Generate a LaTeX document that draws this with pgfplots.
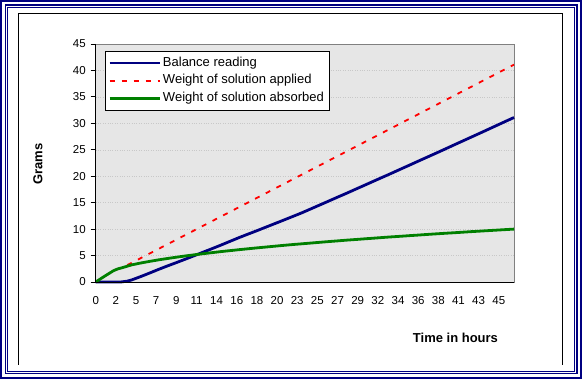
\documentclass[border=0pt]{standalone}
\usepackage{fontspec}
\setmainfont{Liberation Sans}
\usepackage{pgfplots}
\pgfplotsset{compat=1.18}
\definecolor{navyb}{RGB}{0,0,128}
\definecolor{grn}{RGB}{0,128,0}
\definecolor{plotbg}{RGB}{230,230,230}
\definecolor{gridc}{RGB}{200,200,200}
\begin{document}
\begin{tikzpicture}[x=1pt,y=1pt]
\useasboundingbox (0,0) rectangle (582,379);
\fill[white] (0,0) rectangle (582,379);
\draw[navyb, line width=2.2pt] (1.1,1.1) rectangle (580.9,377.9);
\draw[navyb, line width=1.4pt] (5.2,5.2) rectangle (576.8,373.8);
\draw[navyb, line width=0.9pt] (7.6,7.6) rectangle (574.4,371.4);
\draw[black, line width=1pt] (18.3,14) -- (18.3,365.7) -- (562.3,365.7) -- (562.3,14);
\begin{axis}[
  at={(95.7pt,97pt)}, anchor=south west, scale only axis,
  width=418.3pt, height=238pt,
  xmin=0, xmax=46.7, ymin=0, ymax=45,
  clip=false,
  axis background/.style={fill=plotbg},
  axis line style={draw=gray},
  xtick={0,2.25,4.5,6.75,9,11.25,13.5,15.75,18,20.25,22.5,24.75,27,29.25,31.5,33.75,36,38.25,40.5,42.75,45},
  xticklabels={0,2,5,7,9,11,14,16,18,20,23,25,27,29,32,34,36,38,41,43,45},
  x tick style={draw=none},
  ytick={0,5,...,45},
  ytick pos=left,
  tick align=outside,
  major tick length=5pt,
  y tick style={black, line width=0.8pt},
  ymajorgrids,
  y grid style={dotted, gridc},
  tick label style={font=\fontsize{11.5}{13}\selectfont},
  /pgf/number format/assume math mode=true,
  xticklabel style={yshift=-6pt},
  yticklabel style={xshift=-1.5pt},
  xlabel={Time in hours},
  xlabel style={at={(axis description cs:0.860,-0.2353)}, anchor=center, font=\bfseries\fontsize{13}{15}\selectfont},
  ylabel={Grams},
  ylabel style={at={(axis description cs:-0.138,0.496)}, anchor=center, font=\bfseries\fontsize{13}{15}\selectfont},
  legend style={at={(axis description cs:0.0222,0.9706)}, anchor=north west, draw=black, fill=white,
    font=\fontsize{13}{15}\selectfont, inner ysep=3.5pt, row sep=1.3pt,
    nodes={text height=9.5pt, text depth=3pt}},
  legend cell align=left,
]
\addplot[navyb, line width=2.8pt,
  legend image code/.code={\draw[navyb, line width=2.8pt] (0pt,0pt) -- (50pt,0pt);}] coordinates {
(0,0) (1,0) (2,0) (2.8,0) (3.5,0.15) (4,0.38) (5,1.01) (6,1.68) (7,2.37) (8,3.03) (9,3.66) (10,4.31)
(11,4.97) (12,5.64) (13,6.31) (14,6.99) (15,7.69) (16,8.39) (17,9.05) (18,9.70) (19,10.37) (20,11.04)
(21,11.71) (22,12.39) (23,13.07) (24,13.81) (25,14.55) (26,15.29) (27,16.04) (28,16.77) (29,17.53)
(30,18.28) (31,19.04) (32,19.79) (33,20.54) (34,21.31) (35,22.07) (36,22.84) (37,23.60) (38,24.36)
(39,25.13) (40,25.91) (41,26.68) (42,27.45) (43,28.22) (44,29.00) (45,29.78) (46,30.56) (46.7,31.10)
};
\addlegendentry{Balance reading}
\addplot[red, line width=1.8pt, dash pattern=on 5pt off 7pt,
  legend image code/.code={\draw[red, line width=1.8pt, dash pattern=on 5pt off 7pt] (0pt,0pt) -- (50pt,0pt);}] coordinates {
(0,0) (1,1.1) (2,2.15) (3,2.73) (10,8.88) (20,17.66) (30,26.44) (40,35.22) (46.7,41.10)
};
\addlegendentry{Weight of solution applied}
\addplot[grn, line width=2.8pt,
  legend image code/.code={\draw[grn, line width=2.8pt] (0pt,0pt) -- (50pt,0pt);}] coordinates {
(0,0) (1,1.1) (2,2.15) (2.5,2.5) (3,2.72) (4,3.23) (5,3.58) (6,3.89) (7,4.18) (8,4.44) (9,4.69) (10,4.92)
(11,5.14) (12,5.35) (13,5.55) (14,5.75) (15,5.93) (16,6.11) (17,6.28) (18,6.45) (19,6.61) (20,6.77)
(21,6.93) (22,7.08) (23,7.22) (24,7.36) (25,7.50) (26,7.64) (27,7.77) (28,7.91) (29,8.03) (30,8.16)
(31,8.28) (32,8.41) (33,8.53) (34,8.64) (35,8.76) (36,8.87) (37,8.99) (38,9.10) (39,9.21) (40,9.31)
(41,9.42) (42,9.53) (43,9.63) (44,9.73) (45,9.83) (46,9.93) (46.7,10.00)
};
\addlegendentry{Weight of solution absorbed}
\draw[black, line width=0.8pt] (rel axis cs:0,1) -- (rel axis cs:0,0) -- (rel axis cs:1,0);
\end{axis}
\end{tikzpicture}
\end{document}
